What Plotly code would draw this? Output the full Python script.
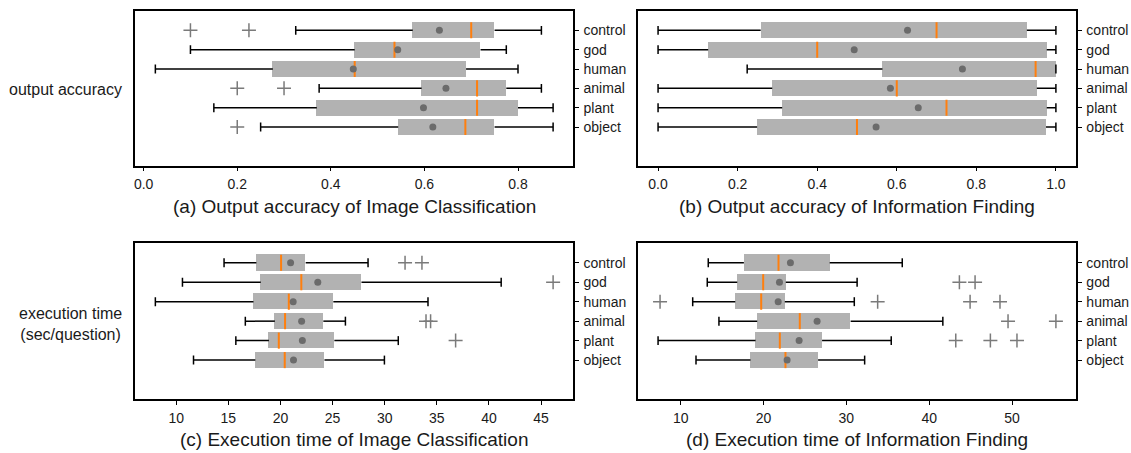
import plotly.graph_objects as go

categories = ["control", "god", "human", "animal", "plant", "object"]

# (a) Output accuracy of Image Classification
a_lo = [0.325, 0.10, 0.025, 0.375, 0.15, 0.25]
a_q1 = [0.575, 0.451, 0.276, 0.594, 0.37, 0.544]
a_med = [0.70, 0.536, 0.451, 0.7125, 0.7125, 0.6875]
a_mean = [0.632, 0.543, 0.448, 0.646, 0.598, 0.618]
a_q3 = [0.75, 0.72, 0.689, 0.775, 0.80, 0.75]
a_hi = [0.85, 0.775, 0.80, 0.85, 0.875, 0.875]
a_out = [[0.10, 0.225], [], [], [0.20, 0.30], [], [0.20]]

# (b) Output accuracy of Information Finding
b_lo = [0.0, 0.0, 0.224, 0.0, 0.0, 0.0]
b_q1 = [0.258, 0.126, 0.564, 0.287, 0.312, 0.249]
b_med = [0.70, 0.40, 0.949, 0.60, 0.725, 0.50]
b_mean = [0.627, 0.493, 0.765, 0.584, 0.654, 0.548]
b_q3 = [0.927, 0.977, 1.0, 0.952, 0.977, 0.975]
b_hi = [1.0, 1.0, 1.0, 1.0, 1.0, 1.0]
b_out = [[], [], [], [], [], []]

# (c) Execution time of Image Classification
c_lo = [14.59, 10.6, 8.0, 16.63, 15.72, 11.66]
c_q1 = [17.69, 18.11, 17.41, 19.46, 18.89, 17.59]
c_med = [20.06, 22.0, 20.8, 20.44, 19.84, 20.41]
c_mean = [20.97, 23.58, 21.22, 22.03, 22.1, 21.25]
c_q3 = [22.42, 27.77, 25.07, 24.11, 25.17, 24.22]
c_hi = [28.4, 41.17, 34.15, 26.23, 31.3, 29.97]
c_out = [[31.95, 33.57], [46.15], [], [33.96, 34.4], [36.8], []]

# (d) Execution time of Information Finding
d_lo = [13.33, 13.21, 11.45, 14.62, 7.27, 11.85]
d_q1 = [17.63, 16.83, 16.59, 19.24, 19.04, 18.43]
d_med = [21.81, 19.96, 19.72, 24.38, 21.97, 22.65]
d_mean = [23.25, 21.93, 21.77, 26.47, 24.3, 22.85]
d_q3 = [27.99, 22.69, 22.57, 30.52, 27.07, 26.59]
d_hi = [36.75, 31.3, 30.96, 41.65, 35.42, 32.21]
d_out = [[], [43.65, 45.54], [7.51, 33.78, 44.94, 48.55], [49.52, 55.3],
         [43.21, 47.39, 50.6], []]

titles = ["(a) Output accuracy of Image Classification",
          "(b) Output accuracy of Information Finding",
          "(c) Execution time of Image Classification",
          "(d) Execution time of Information Finding"]
row_labels = ["output accuracy", "execution time<br>(sec/question)"]
a_ticks = [0.0, 0.2, 0.4, 0.6, 0.8]
b_ticks = [0.0, 0.2, 0.4, 0.6, 0.8, 1.0]
c_ticks = [10, 15, 20, 25, 30, 35, 40, 45]
d_ticks = [10, 20, 30, 40, 50]

W, H = 1131, 453
BOX_W = 0.83
CAP = 0.23
BOX_COLOR = "#b2b2b2"
MEAN_COLOR = "#6b6b6b"
OUT_COLOR = "#7a7a7a"
MED_COLOR = "#ff7f0e"
FONT = "Liberation Sans, Arial, sans-serif"
TXT = "#1a1a1a"

n = len(categories)
pos = [n - i for i in range(n)]  # control on top

panels = [
    (a_lo, a_q1, a_med, a_mean, a_q3, a_hi, a_out, a_ticks, ".1f"),
    (b_lo, b_q1, b_med, b_mean, b_q3, b_hi, b_out, b_ticks, ".1f"),
    (c_lo, c_q1, c_med, c_mean, c_q3, c_hi, c_out, c_ticks, "d"),
    (d_lo, d_q1, d_med, d_mean, d_q3, d_hi, d_out, d_ticks, "d"),
]

# pixel frames of the panels
x_dom_px = [(133.7, 572.0), (637.3, 1075.7), (133.7, 572.0), (637.3, 1075.7)]
y_dom_px = [(11.0, 165.7), (11.0, 165.7), (243.3, 399.0), (243.3, 399.0)]
title_px = [206.7, 206.7, 439.0, 439.0]
label_px = [(122.5, 89.0), (122.5, 324.0)]


def px_x(v):
    return v / W


def px_y(v):
    return 1 - v / H


fig = go.Figure()
layout = {}
annotations = []

for k, (lo, q1, med, mean, q3, hi, out, ticks, fmt) in enumerate(panels):
    sfx = "" if k == 0 else str(k + 1)
    xa, ya = "x" + sfx, "y" + sfx

    # boxes
    fig.add_trace(go.Bar(
        y=pos, x=[b - a for a, b in zip(q1, q3)], base=q1, orientation="h",
        width=BOX_W, marker=dict(color=BOX_COLOR, line=dict(width=0)),
        xaxis=xa, yaxis=ya, showlegend=False, hoverinfo="skip"))

    wx, wy = [], []
    cx, cy = [], []
    mx, my = [], []
    for p, l, a, b, h, m in zip(pos, lo, q1, q3, hi, med):
        wx += [l, a, None, b, h, None]
        wy += [p, p, None, p, p, None]
        cx += [l, l, None, h, h, None]
        cy += [p - CAP, p + CAP, None, p - CAP, p + CAP, None]
        mx += [m, m, None]
        my += [p - BOX_W / 2, p + BOX_W / 2, None]
    fig.add_trace(go.Scatter(x=wx, y=wy, mode="lines",
                             line=dict(color="black", width=1.5),
                             xaxis=xa, yaxis=ya, showlegend=False, hoverinfo="skip"))
    fig.add_trace(go.Scatter(x=cx, y=cy, mode="lines",
                             line=dict(color="black", width=1.5),
                             xaxis=xa, yaxis=ya, showlegend=False, hoverinfo="skip"))
    fig.add_trace(go.Scatter(x=mx, y=my, mode="lines",
                             line=dict(color=MED_COLOR, width=2),
                             xaxis=xa, yaxis=ya, showlegend=False, hoverinfo="skip"))
    fig.add_trace(go.Scatter(x=mean, y=pos, mode="markers",
                             marker=dict(color=MEAN_COLOR, size=7),
                             xaxis=xa, yaxis=ya, showlegend=False, hoverinfo="skip"))
    ox, oy = [], []
    for p, o in zip(pos, out):
        ox += o
        oy += [p] * len(o)
    fig.add_trace(go.Scatter(x=ox, y=oy, mode="markers",
                             marker=dict(symbol="cross-thin", size=10,
                                         line=dict(width=1.5, color=OUT_COLOR)),
                             xaxis=xa, yaxis=ya, showlegend=False, hoverinfo="skip"))

    # data range with 5% margins
    allv = lo + hi + [v for o in out for v in o]
    vmin, vmax = min(allv), max(allv)
    pad = 0.05 * (vmax - vmin)

    x0, x1 = x_dom_px[k]
    y0, y1 = y_dom_px[k]
    layout["xaxis" + sfx] = dict(
        domain=[px_x(x0), px_x(x1)], range=[vmin - pad, vmax + pad],
        tickvals=ticks, tickformat=fmt, ticks="outside", ticklen=4,
        tickwidth=1.2, tickcolor="black", showline=True, linewidth=1.5,
        linecolor="black", mirror=True, showgrid=False, zeroline=False,
        anchor=ya, ticklabelstandoff=1,
        tickfont=dict(size=14, color=TXT, family=FONT))
    layout["yaxis" + sfx] = dict(
        domain=[px_y(y1), px_y(y0)], range=[-1, n + 1],
        tickvals=pos, ticktext=categories, side="right", ticks="outside",
        ticklen=4, tickwidth=1.2, tickcolor="black", showline=True,
        linewidth=1.5, linecolor="black", mirror=True, showgrid=False,
        zeroline=False, anchor=xa, ticklabelstandoff=2,
        tickfont=dict(size=14, color=TXT, family=FONT))

    annotations.append(dict(
        text=titles[k], x=px_x((x0 + x1) / 2), y=px_y(title_px[k]),
        xref="paper", yref="paper", xanchor="center", yanchor="middle",
        showarrow=False, font=dict(size=19, color=TXT, family=FONT)))

# row labels
for lab, (lx, ly) in zip(row_labels, label_px):
    annotations.append(dict(
        text=lab, x=px_x(lx), y=px_y(ly),
        xref="paper", yref="paper", xanchor="right", yanchor="middle",
        align="center", showarrow=False,
        font=dict(size=16, color=TXT, family=FONT)))

fig.update_layout(
    width=W, height=H, margin=dict(l=0, r=0, t=0, b=0),
    paper_bgcolor="white", plot_bgcolor="white",
    font=dict(family=FONT, color=TXT),
    annotations=annotations, showlegend=False, bargap=0,
    **layout)

fig.write_html(
    "out.html",
    config={"displayModeBar": False},
    post_script="document.body.style.margin='0';"
                "document.documentElement.style.overflow='hidden';")
